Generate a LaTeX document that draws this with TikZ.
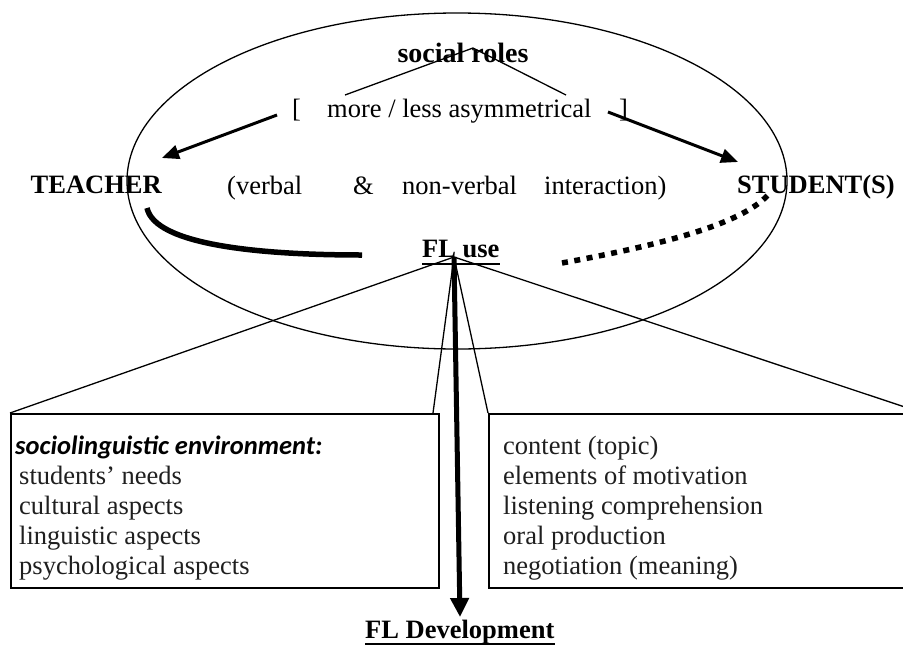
\documentclass[tikz,border=0pt]{standalone}
\usepackage{fontspec}
\setmainfont{Liberation Serif}
\newfontfamily\calib{Carlito}
\usetikzlibrary{arrows.meta,shapes.geometric,calc}
\begin{document}
\begin{tikzpicture}[x=1pt,y=-1pt,
  lbl/.style={inner sep=0pt, anchor=base west, font=\fontsize{26.5}{30}\selectfont},
  blbl/.style={inner sep=0pt, anchor=base west, font=\fontsize{26.5}{30}\selectfont\bfseries},
  boxtxt/.style={inner sep=0pt, anchor=base west, font=\fontsize{26.5}{30}\selectfont, text=black!88},
  fineline/.style={line width=1.3pt},
  boxline/.style={draw, line width=1.8pt, inner sep=0pt, anchor=north west},
  toparrow/.style={line width=3pt, -{Triangle[length=17pt,width=14pt]}},
  downarrow/.style={line width=5pt, -{Triangle[length=19pt,width=18pt]}},
  ulineline/.style={line width=2pt},
]
\useasboundingbox (0,0) rectangle (903,646);

% big ellipse
\node (oval) [draw, ellipse, line width=1.3pt, minimum width=660pt, minimum height=336pt, inner sep=0pt] at (457,181) {};

% top labels
\node (roles) [blbl, anchor=base, font=\fontsize{28}{30}\selectfont\bfseries] at (463,62) {social roles};
\node (lbrack) [lbl] at (292,117) {[};
\node (asym) [lbl] at (327,117) {more / less asymmetrical};
\node (rbrack) [lbl] at (619,117) {]};

\coordinate (capL) at (345,95);
\coordinate (capT) at (473,48);
\coordinate (capR) at (566,95);
\draw[fineline] (capL) -- (capT) -- (capR);

% middle row
\node (teacher) [blbl, anchor=base east] at (162,193) {TEACHER};
\node (verbal) [lbl] at (227,194) {(verbal};
\node (amp) [lbl] at (353,194) {\&};
\node (nonverbal) [lbl] at (402,194) {non-verbal};
\node (interaction) [lbl] at (544,194) {interaction)};
\node (student) [blbl] at (737,193) {STUDENT(S)};

% arrows from social roles
\coordinate (la1) at (277,115);
\coordinate (la2) at (162,158);
\coordinate (ra1) at (608,112);
\coordinate (ra2) at (738,162);
\draw[toparrow] (la1) -- (la2);
\draw[toparrow] (ra1) -- (ra2);

% FL use
\node (fluse) [blbl] at (422,257) {FL use};
\draw[ulineline] ($(fluse.base west)+(0,7)$) -- ($(fluse.base east)+(0,7)$);

% curves to FL use
\coordinate (tc1) at (147,208);
\coordinate (tc2) at (362,255);
\draw[line width=5.5pt] (tc1) .. controls (155,245) and (260,255) .. (tc2);
\coordinate (sc1) at (768,195);
\coordinate (sc2) at (562,263);
\draw[line width=5.5pt, dash pattern=on 6pt off 6.5pt] (sc2) .. controls (660,245) and (740,225) .. (sc1);

% boxes
\node (lbox) [boxline, minimum width=428pt, minimum height=174pt] at (10,413) {};
\node (rbox) [boxline, minimum width=433pt, minimum height=174pt] at (488,413) {};

% fan lines
\coordinate (apex) at (454,257);
\coordinate (linL) at (433,413);
\draw[fineline] (apex) -- (lbox.north west);
\draw[fineline] (apex) -- (linL);
\draw[fineline] (apex) -- (rbox.north west);
\draw[fineline] (apex) -- (rbox.north east);

% FL development
\node (fldev) [blbl] at (365,638) {FL Development};
\draw[ulineline] ($(fldev.base west)+(0,6)$) -- ($(fldev.base east)+(0,6)$);
\coordinate (tip) at (460,617);
\draw[downarrow] (apex) -- (tip);

% left box text
\node (socio) [inner sep=0pt, anchor=base west, font=\calib\fontsize{26.5}{30}\selectfont\bfseries\itshape] at (15,454) {sociolinguistic environment:};
\node (needs) [boxtxt] at (19,484) {students’ needs};
\node (cult) [boxtxt] at (19,514) {cultural aspects};
\node (ling) [boxtxt] at (19,544) {linguistic aspects};
\node (psych) [boxtxt] at (19,574) {psychological aspects};

% right box text
\node (content) [boxtxt] at (503,454) {content (topic)};
\node (motiv) [boxtxt] at (503,484) {elements of motivation};
\node (listen) [boxtxt] at (503,514) {listening comprehension};
\node (oral) [boxtxt] at (503,544) {oral production};
\node (nego) [boxtxt] at (503,574) {negotiation (meaning)};
\end{tikzpicture}
\end{document}
